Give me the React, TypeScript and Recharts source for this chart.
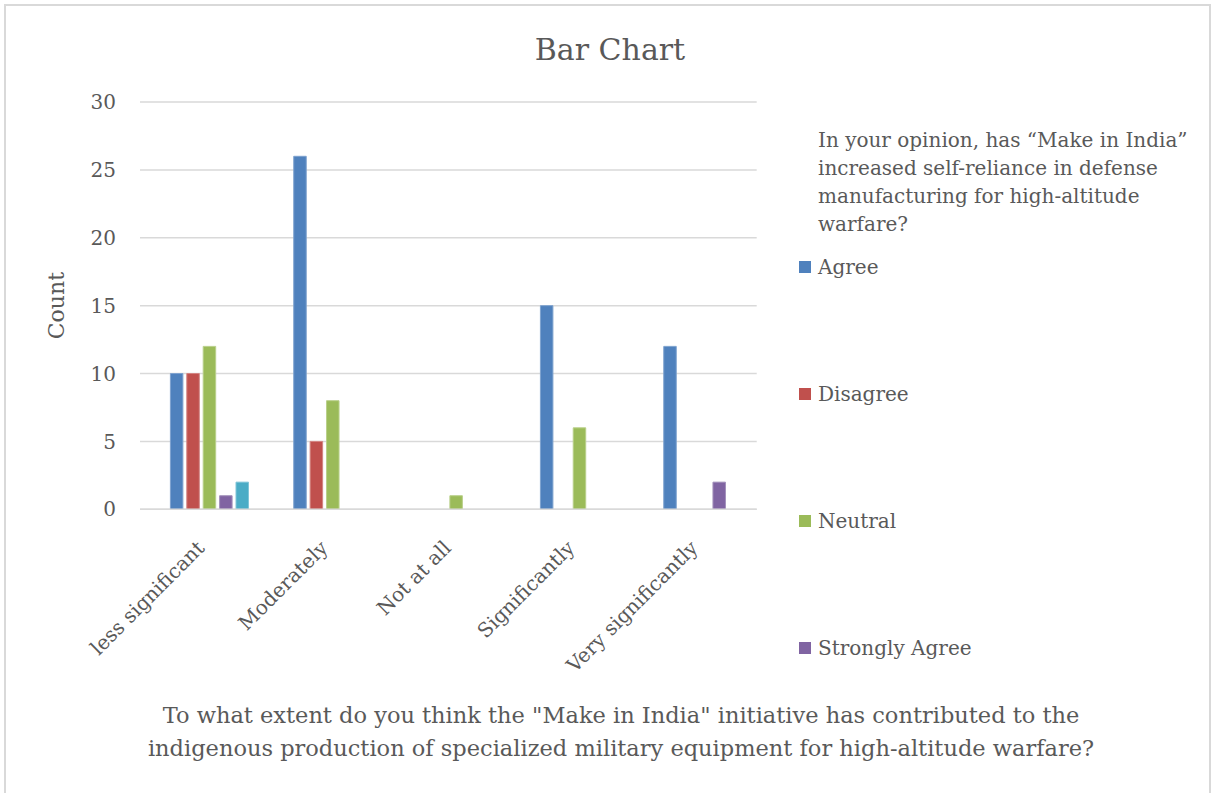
import React from 'react';
import { BarChart, Bar, XAxis, YAxis, CartesianGrid, Legend } from 'recharts';

// Survey responses: extent of contribution (x) vs. opinion on self-reliance (series)
const categories = ['less significant', 'Moderately', 'Not at all', 'Significantly', 'Very significantly'];
const agree = [10, 26, 0, 15, 12];
const disagree = [10, 5, 0, 0, 0];
const neutral = [12, 8, 1, 6, 0];
const stronglyAgree = [1, 0, 0, 0, 2];
const stronglyDisagree = [2, 0, 0, 0, 0];
const yTicks = [0, 5, 10, 15, 20, 25, 30];

const chartTitle = 'Bar Chart';
const xTitleLines = [
  'To what extent do you think the "Make in India" initiative has contributed to the',
  'indigenous production of specialized military equipment for high-altitude warfare?',
];
const legendTitleLines = [
  'In your opinion, has “Make in India”',
  'increased self-reliance in defense',
  'manufacturing for high-altitude',
  'warfare?',
];

const data = categories.map((category, i) => ({
  category,
  blank: null as number | null,
  Agree: agree[i] || null,
  Disagree: disagree[i] || null,
  Neutral: neutral[i] || null,
  'Strongly Agree': stronglyAgree[i] || null,
  'Strongly Disagree': stronglyDisagree[i] || null,
}));

const FONT = '"DejaVu Serif", serif';
const TEXT = '#595959';
const GRID = '#d9d9d9';

const AngledTick = (props: any) => {
  const { x, y, payload } = props;
  const ax = x + 4;
  const ay = y + 40;
  return (
    <text
      x={ax}
      y={ay}
      transform={`rotate(-45 ${ax} ${ay})`}
      textAnchor="end"
      fill={TEXT}
      fontSize={20}
      fontFamily={FONT}
    >
      {payload.value}
    </text>
  );
};

const CountLabel = (props: any) => {
  const { viewBox } = props;
  const x = viewBox.x + 11;
  const y = viewBox.y + viewBox.height / 2;
  return (
    <text
      x={x}
      y={y}
      transform={`rotate(-90 ${x} ${y})`}
      textAnchor="middle"
      dominantBaseline="central"
      fill={TEXT}
      fontSize={22}
      fontFamily={FONT}
    >
      Count
    </text>
  );
};

const LegendBox = (props: any) => {
  const items = (props.payload || []).filter((p: any) => p.type !== 'none' && p.value !== 'blank' && p.value !== 'Strongly Disagree');
  return (
    <div style={{ fontFamily: FONT, color: TEXT, fontSize: 20 }}>
      <div style={{ paddingLeft: 19, lineHeight: '28px', whiteSpace: 'nowrap' }}>
        {legendTitleLines.map((l) => (
          <div key={l}>{l}</div>
        ))}
      </div>
      <div style={{ marginTop: 15 }}>
        {items.map((it: any) => (
          <div
            key={it.value}
            style={{ height: 28, marginBottom: 99, display: 'flex', alignItems: 'center', whiteSpace: 'nowrap' }}
          >
            <span style={{ display: 'inline-block', width: 12, height: 12, background: it.color, marginRight: 7 }} />
            <span>{it.value}</span>
          </div>
        ))}
      </div>
    </div>
  );
};

export default function App() {
  return (
    <div style={{ position: 'absolute', left: 0, top: 0, width: 1216, height: 793, overflow: 'hidden', background: '#fff' }}>
      <div
        style={{
          position: 'absolute',
          left: 30,
          width: 1160,
          top: 30,
          textAlign: 'center',
          fontFamily: FONT,
          fontSize: 30,
          lineHeight: '40px',
          color: TEXT,
        }}
      >
        {chartTitle}
      </div>
      <div style={{ position: 'absolute', left: 0, top: 0 }}>
        <BarChart
          width={1216}
          height={793}
          data={data}
          margin={{ top: 102, right: 459.3, bottom: 0, left: 46 }}
          barSize={12.5}
          barGap={3.9}
        >
          <CartesianGrid vertical={false} stroke={GRID} strokeWidth={1.5} />
          <XAxis
            dataKey="category"
            interval={0}
            height={283.7}
            tickLine={false}
            axisLine={{ stroke: GRID, strokeWidth: 1.5 }}
            tickSize={0}
            tickMargin={0}
            tick={<AngledTick />}
          />
          <YAxis
            width={94}
            domain={[0, 30]}
            ticks={yTicks}
            tickLine={false}
            axisLine={false}
            tickSize={0}
            tickMargin={24}
            tick={{ fill: TEXT, fontSize: 20, fontFamily: FONT }}
            label={<CountLabel />}
          />
          <Legend
            layout="vertical"
            align="center"
            verticalAlign="middle"
            wrapperStyle={{ left: 799, top: 126, width: 410 }}
            content={<LegendBox />}
          />
          <Bar dataKey="blank" fill="transparent" legendType="none" isAnimationActive={false} />
          <Bar dataKey="Agree" fill="#4F81BD" stroke="#7ea2cf" strokeWidth={1} isAnimationActive={false} />
          <Bar dataKey="Disagree" fill="#C0504D" stroke="#d38482" strokeWidth={1} isAnimationActive={false} />
          <Bar dataKey="Neutral" fill="#9BBB59" stroke="#b9d08a" strokeWidth={1} isAnimationActive={false} />
          <Bar dataKey="Strongly Agree" fill="#8064A2" stroke="#a391bc" strokeWidth={1} isAnimationActive={false} />
          <Bar dataKey="Strongly Disagree" fill="#4BACC6" stroke="#80c5d8" strokeWidth={1} legendType="none" isAnimationActive={false} />
        </BarChart>
      </div>
      <div
        style={{
          position: 'absolute',
          left: 121,
          width: 1000,
          top: 699,
          textAlign: 'center',
          fontFamily: FONT,
          fontSize: 22.5,
          lineHeight: '33px',
          color: TEXT,
        }}
      >
        {xTitleLines.map((l) => (
          <div key={l} style={{ whiteSpace: 'nowrap' }}>{l}</div>
        ))}
      </div>
      {/* outer frame, open at the bottom */}
      <div
        style={{
          position: 'absolute',
          left: 4,
          top: 4,
          width: 1203,
          height: 820,
          zIndex: 10,
          pointerEvents: 'none',
          borderTop: `2px solid ${GRID}`,
          borderLeft: `2px solid ${GRID}`,
          borderRight: `2px solid ${GRID}`,
        }}
      />
    </div>
  );
}
